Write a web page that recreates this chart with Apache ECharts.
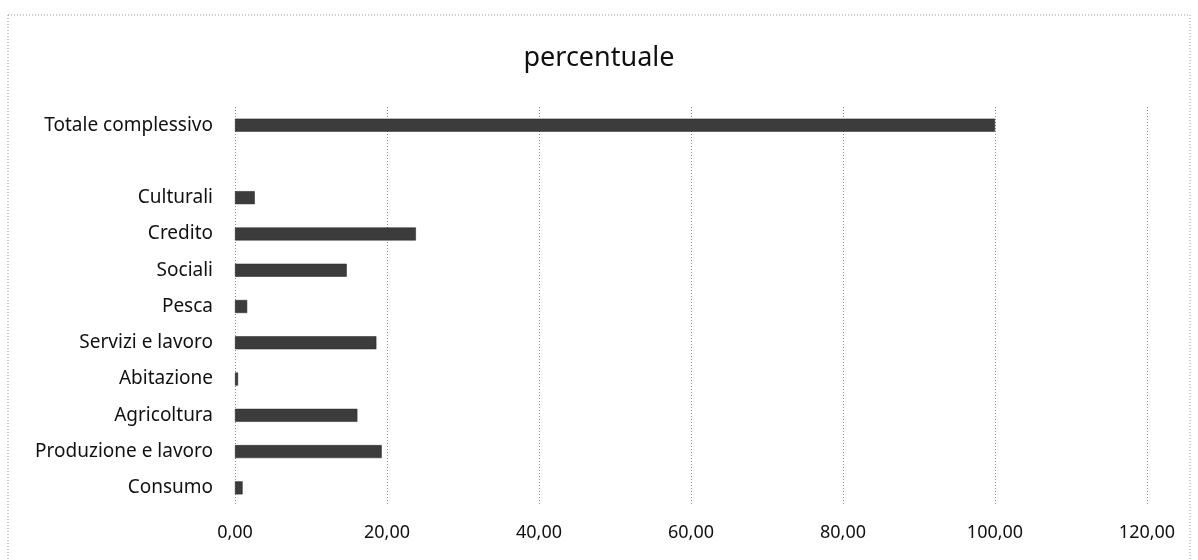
<!DOCTYPE html>
<html><head><meta charset="utf-8">
<script src="https://cdn.jsdelivr.net/npm/echarts@6/dist/echarts.min.js"></script>
<style>html,body{margin:0;padding:0;background:#fff}#c{width:1198px;height:560px}</style>
</head><body><div id="c"></div>
<script>
const categories = ['Consumo','Produzione e lavoro','Agricoltura','Abitazione','Servizi e lavoro','Pesca','Sociali','Credito','Culturali','','Totale complessivo'];
const values = [1.0, 19.3, 16.1, 0.4, 18.6, 1.6, 14.7, 23.8, 2.6, null, 100];
const title = 'percentuale';
const chart = echarts.init(document.getElementById('c'));
chart.setOption({
  animation:false,
  title:{text:title,left:'center',top:40,textStyle:{fontFamily:'Noto Sans',fontWeight:'normal',fontSize:27,color:'#111'}},
  graphic:[{type:'rect',shape:{x:8,y:15,width:1182,height:560},style:{fill:'none',stroke:'#999',lineWidth:1,lineDash:[1,2]},silent:true}],
  grid:{left:235,right:51,top:107,bottom:54,containLabel:false},
  xAxis:{type:'value',min:0,max:120,interval:20,
    axisLine:{show:false},axisTick:{show:false},
    splitLine:{show:true,lineStyle:{color:'#888',type:[1,2],width:1}},
    axisLabel:{margin:18,fontFamily:'Noto Sans',fontSize:18,color:'#111',formatter:v=>v.toFixed(2).replace('.',',')}},
  yAxis:{type:'category',data:categories,
    axisLine:{show:false},axisTick:{show:false},
    axisLabel:{margin:22,fontFamily:'Noto Sans',fontSize:19,color:'#111'}},
  series:[{type:'bar',data:values,barWidth:13,itemStyle:{color:'#3c3c3c',borderColor:'#222',borderWidth:0.5}}]
});
</script></body></html>
